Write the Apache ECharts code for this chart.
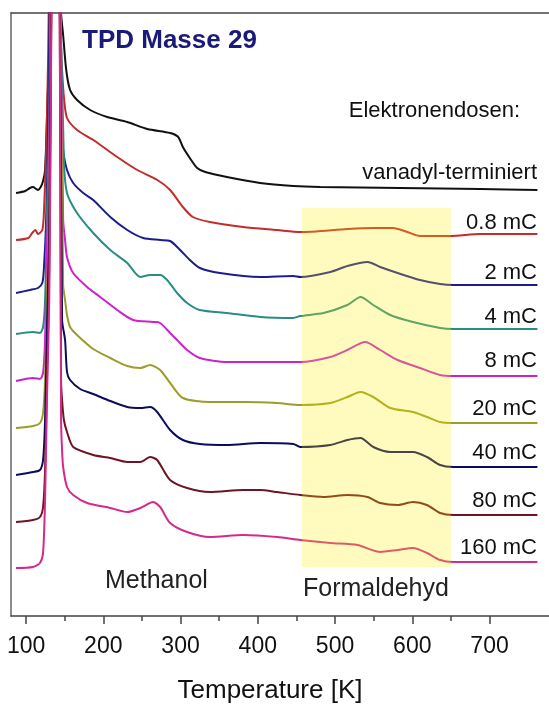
<!DOCTYPE html>
<html>
<head>
<meta charset="utf-8">
<script src="https://cdn.jsdelivr.net/npm/echarts@6/dist/echarts.min.js"></script>
<style>
html,body{margin:0;padding:0;background:#fff;}
#chart{width:549px;height:704px;}
</style>
</head>
<body>
<div id="chart"></div>
<script>
// ---- data: [temperature K, signal (arb. units, offset per trace)] ----
const vanadyl = [[87,423],[99,425],[105,428],[109,429],[113,427],[115.5,426],[119,429],[122,435],[124.6,446],[127,496],[130,576],[135,900],[140,750],[145.3,603],[148,581],[152,546],[157,526],[166,516],[183,506],[205,499],[231,494],[257,487],[286.5,483],[297,479],[303,469],[312,458],[321.5,448],[332,444],[360,439],[403,433],[446,430],[481,429],[584,428],[688,427],[762,426]];
const dose08 = [[87,376],[103,378],[108,383],[112,386],[115.5,382],[121,386],[123,401],[126,466],[128.5,556],[135,900],[141,700],[145,576],[146.6,546],[149,519],[153,498],[166,486],[187,476],[218,459],[244,446],[270,436],[286.5,426],[303,409],[316,399],[338,394],[381,389],[425,386],[455,384],[516,387],[549.5,388],[575,388],[593.5,384],[610,380],[649,380],[688,382],[762,382]];
const dose2 = [[87,323],[105,326],[115.5,328],[121,333],[123,346],[126,396],[128.5,486],[136,900],[141.5,700],[146.6,486],[148,466],[153,446],[161,433],[174,423],[187,416],[209,399],[231,386],[251.6,378],[273.6,376],[286.5,375],[299.5,366],[312,356],[325,348],[351,343],[403,339],[446,340],[455,339],[494,344],[516,350],[542,354],[558.5,349],[581,343],[610,336],[636,332],[653,331],[762,331]];
const dose4 = [[87,282],[109,284],[118,283],[122,289],[124.6,316],[127,396],[130,496],[136,900],[142,700],[149,456],[153,423],[166,403],[187,383],[209,366],[231,353],[248,339],[260.6,341],[273.6,341],[282.6,336],[295.6,323],[308.5,313],[325,306],[360,303],[403,299],[446,298],[455,300],[485,303],[516,311],[533,319],[549.5,311],[571.5,301],[601,294],[636,288],[653,287],[762,287]];
const dose8 = [[87,235],[109,238],[118,237],[122,243],[124.6,276],[127,366],[130,466],[136,900],[142.5,700],[148,396],[150.5,376],[153,359],[161,343],[179,329],[196,319],[218,306],[238.6,296],[264.5,294],[273.6,293],[286.5,283],[295.6,276],[308.5,266],[325,258],[360,254],[429,254],[455,254],[494,259],[516,266],[539,274],[558.5,266],[581,256],[610,248],[636,241],[653,240],[762,240]];
const dose20 = [[87,188],[109,190],[118,193],[122,203],[124.6,236],[127,316],[130,416],[137,900],[143,700],[148,331],[150.5,316],[153,301],[157,289],[166,281],[187,267],[209,258],[231,250],[248,248],[260.6,251],[273.6,246],[286.5,233],[303,218],[338,214],[381,214],[425,213],[455,211],[494,213],[516,219],[533,224],[549.5,219],[571.5,208],[601,204],[619,199],[636,194],[653,193],[762,193]];
const dose40 = [[87,141],[109,144],[118,146],[122,156],[124.6,196],[127,286],[130,386],[137,900],[143,700],[146.6,296],[150.5,276],[153,244],[157,236],[170,227],[187,222],[209,215],[231,209],[248,208],[260.6,209],[269.7,204],[286.5,186],[303,176],[325,172],[360,171],[403,173],[446,172],[455,169],[494,171],[516,176],[533,178],[549.5,169],[571.5,164],[601,164],[619,159],[636,151],[653,149],[762,149]];
const dose80 = [[87,94],[109,96],[118,99],[122,109],[124.6,146],[127,236],[130,346],[137,900],[143,700],[145.3,236],[146.6,216],[149,196],[153,184],[161,169],[187,161],[209,158],[231,154],[248,154],[260.6,159],[269.7,156],[286.5,136],[308.5,128],[338,124],[381,126],[403,126],[425,124],[455,121],[485,119],[516,121],[542,119],[558.5,113],[581,111],[601,114],[619,111],[636,103],[653,101],[762,101]];
const dose160 = [[87,48],[109,49],[118,53],[122,63],[124.6,116],[127,216],[130,316],[137,900],[143,700],[145.3,196],[146.6,166],[148,149],[153,129],[161,121],[179,113],[209,108],[231,104],[248,108],[264.5,114],[273.6,109],[286.5,93],[308.5,84],[338,79],[381,81],[425,79],[455,76],[494,73],[529,71],[558.5,64],[581,66],[601,68],[619,63],[636,56],[653,54],[762,54]];

const traces = [vanadyl, dose08, dose2, dose4, dose8, dose20, dose40, dose80, dose160];
const traceLabels = ['vanadyl-terminiert','0.8 mC','2 mC','4 mC','8 mC','20 mC','40 mC','80 mC','160 mC'];
const majorTicks = [100,200,300,400,500,600,700];
const minorTicks = [150,250,350,450,550,650];
const shadeRange = [457, 650];   // K
const shadeLevels = [49, 408];   // signal

const colors = ['#111111','#c42b2b','#1c1c8c','#2a8c84','#cc22cc','#9c9c2a','#0c0c5c','#6e1424','#d42a8a'];
const labelY = [172,222,272,316,360,408,452,500,547];

const chart = echarts.init(document.getElementById('chart'), null, {renderer:'canvas'});
const font = '"Liberation Sans", Arial, sans-serif';

const series = traces.map((d, i) => ({
  type:'line', data:d, symbol:'none', smooth:0.25, z: 2 + i*0.01,
  lineStyle:{color:colors[i], width:2}, itemStyle:{color:colors[i]}, clip:true, silent:true
}));
series.push({
  type:'custom', z:20, silent:true,
  data:[[shadeRange[0], shadeLevels[1], shadeRange[1], shadeLevels[0]]],
  renderItem:(params, api) => {
    const p1 = api.coord([api.value(0), api.value(1)]);
    const p2 = api.coord([api.value(2), api.value(3)]);
    return {type:'rect', shape:{x:p1[0], y:p1[1], width:p2[0]-p1[0], height:p2[1]-p1[1]},
      style:{fill:'rgba(255,240,0,0.25)'}};
  }
});
series.push({type:'line', data:[], xAxisIndex:2, symbol:'none'});

const texts = traceLabels.map((t, i) => ({
  type:'text', right: 549-537, top: labelY[i]-10, z:50,
  style:{text:t, font:'22px ' + font, fill:'#111', textAlign:'right'}
}));
texts.push({type:'text', left:82, top:41-13, z:50, style:{text:'TPD Masse 29', font:'bold 26px ' + font, fill:'#1a1a7a'}});
texts.push({type:'text', right:549-520, top:110-10, z:50, style:{text:'Elektronendosen:', font:'22px ' + font, fill:'#111'}});
texts.push({type:'text', left:105, top:582-13, z:50, style:{text:'Methanol', font:'25px ' + font, fill:'#222'}});
texts.push({type:'text', left:303, top:590-13, z:50, style:{text:'Formaldehyd', font:'25px ' + font, fill:'#222'}});

chart.setOption({
  animation:false,
  backgroundColor:'#fff',
  grid:{left:11, right:0, top:13, bottom:704-616, containLabel:false, outerBoundsMode:'none'},
  xAxis:[{
    type:'value', min:80.5, max:777, position:'bottom',
    axisLine:{show:true, lineStyle:{color:'#444', width:1.5}},
    axisTick:{show:true, length:8, lineStyle:{color:'#444', width:1.5}, customValues:majorTicks},
    axisLabel:{show:true, customValues:majorTicks, fontSize:23, color:'#111', fontFamily:font, margin:19},
    splitLine:{show:false},
    name:'Temperature [K]', nameLocation:'middle', nameGap:62,
    nameTextStyle:{fontSize:26, color:'#111', fontFamily:font, padding:[0,20,0,0]}
  },{
    type:'value', min:80.5, max:777, position:'top',
    axisLine:{show:true, onZero:false, lineStyle:{color:'#444', width:1.5}},
    axisTick:{show:false}, axisLabel:{show:false}, splitLine:{show:false}
  },{
    type:'value', min:80.5, max:777, position:'bottom',
    axisLine:{show:false},
    axisTick:{show:true, length:5, lineStyle:{color:'#444', width:1.5}, customValues:minorTicks},
    axisLabel:{show:false}, splitLine:{show:false}
  }],
  yAxis:{
    type:'value', min:0, max:603,
    axisLine:{show:true, lineStyle:{color:'#666', width:1.5}},
    axisTick:{show:false}, axisLabel:{show:false}, splitLine:{show:false}
  },
  series:series,
  graphic:texts
});
</script>
</body>
</html>
